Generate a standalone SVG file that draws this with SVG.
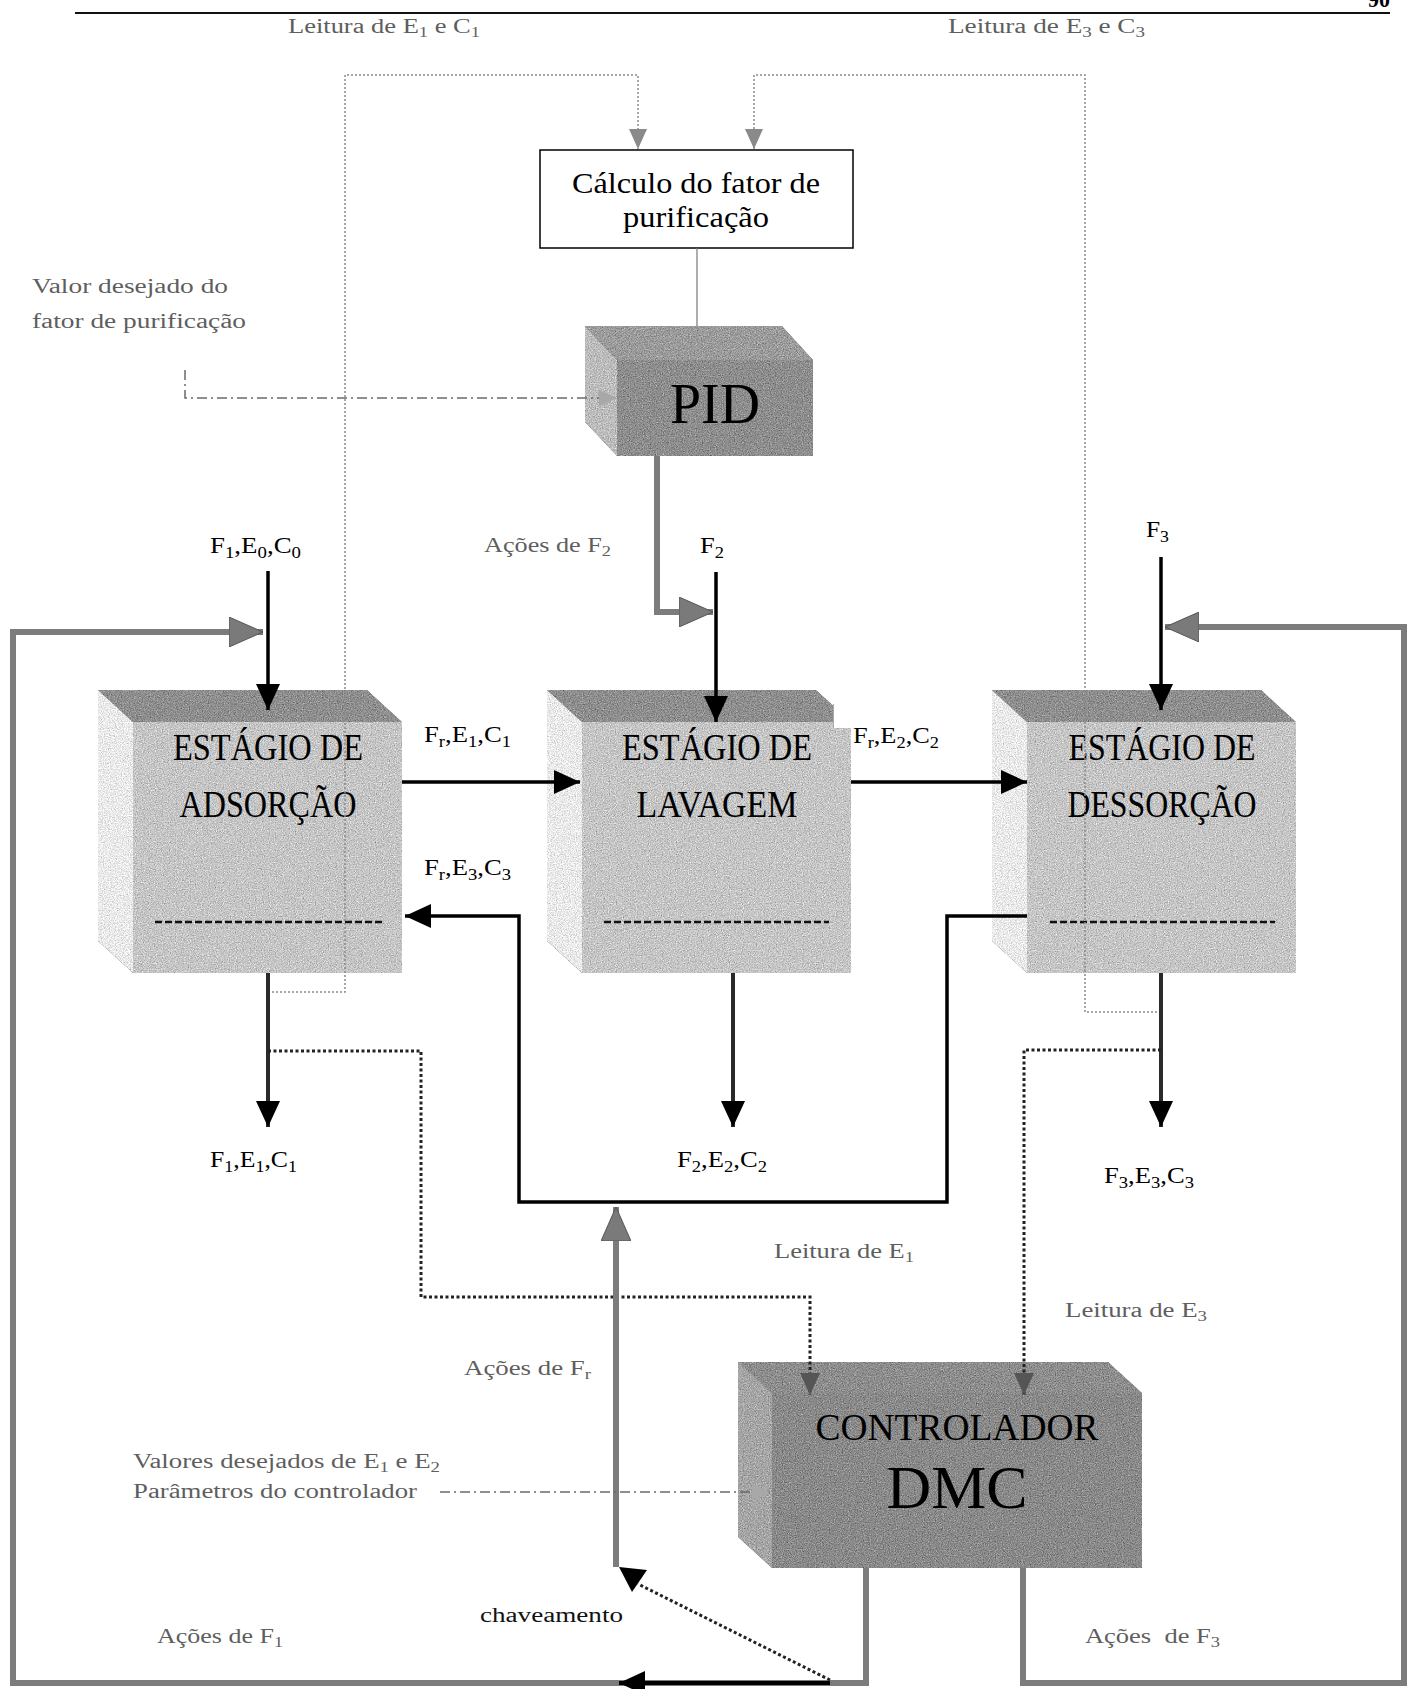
<svg xmlns="http://www.w3.org/2000/svg" width="1407" height="1689" viewBox="0 0 1407 1689">
<style>
  text { font-family: "Liberation Serif", "Times New Roman", serif; }
  .g { fill: #5e5e5e; font-size: 20px; }
  .k { fill: #000; font-size: 24px; }
  .stage { fill: #000; font-size: 37px; text-anchor: middle; }
  .s { font-size: 70%; }
  .blk { fill: none; stroke: #000; stroke-width: 3.5; }
  .out { fill: none; stroke: #2a2a2a; stroke-width: 4; }
  .thick { fill: none; stroke: #7c7c7c; stroke-width: 6; }
  .dotthin { fill: none; stroke: #8a8a8a; stroke-width: 1.5; stroke-dasharray: 2 2; }
  .dotbold { fill: none; stroke: #222; stroke-width: 3; stroke-dasharray: 3 2.5; }
  .dashdot { fill: none; stroke: #6a6a6a; stroke-width: 1.5; stroke-dasharray: 10 4 2 4; }
  .sep { stroke: #111; stroke-width: 2.5; stroke-dasharray: 7 3; }
  .top { fill: #8f8f8f; }
  .front { fill: #c6c6c6; }
  .side { fill: #ebebeb; }
</style>
<defs>
  <filter id="grain" x="0" y="0" width="1" height="1" color-interpolation-filters="sRGB">
    <feTurbulence type="fractalNoise" baseFrequency="0.85" numOctaves="2" seed="7" result="n"/>
    <feColorMatrix in="n" type="matrix" values="0.33 0.33 0.33 0 0  0.33 0.33 0.33 0 0  0.33 0.33 0.33 0 0  0 0 0 0 1" result="gn"/>
    <feComposite in="SourceGraphic" in2="gn" operator="arithmetic" k1="0" k2="1" k3="0.9" k4="-0.45" result="m"/>
    <feComposite in="m" in2="SourceAlpha" operator="in"/>
  </filter>
  <marker id="mk" viewBox="0 0 26 24" refX="26" refY="12" markerWidth="26" markerHeight="24" markerUnits="userSpaceOnUse" orient="auto">
    <path d="M0 0L26 12L0 24z" fill="#000"/>
  </marker>
  <marker id="mg" viewBox="0 0 34 30" refX="34" refY="15" markerWidth="34" markerHeight="30" markerUnits="userSpaceOnUse" orient="auto">
    <path d="M0 0L34 15L0 30z" fill="#7a7a7a" stroke="#555" stroke-width="1"/>
  </marker>
  <marker id="mt" viewBox="0 0 20 18" refX="20" refY="9" markerWidth="20" markerHeight="18" markerUnits="userSpaceOnUse" orient="auto">
    <path d="M0 0L20 9L0 18z" fill="#8a8a8a"/>
  </marker>
  <marker id="md" viewBox="0 0 22 20" refX="22" refY="10" markerWidth="22" markerHeight="20" markerUnits="userSpaceOnUse" orient="auto">
    <path d="M0 0L22 10L0 20z" fill="#555"/>
  </marker>
  <marker id="ml" viewBox="0 0 18 16" refX="18" refY="8" markerWidth="18" markerHeight="16" markerUnits="userSpaceOnUse" orient="auto">
    <path d="M0 0L18 8L0 16z" fill="#a8a8a8"/>
  </marker>
</defs>

<rect width="1407" height="1689" fill="#fff"/>

<!-- page header rule and page number -->
<g id="page-header">
  <line x1="75" y1="13" x2="1390" y2="13" stroke="#111" stroke-width="2"/>
  <text x="1390" y="7" font-size="22" font-weight="bold" text-anchor="end">90</text>
</g>

<!-- purification factor calculation -->
<g id="node-calculo">
  <rect x="540" y="150" width="313" height="98" fill="#fff" stroke="#000" stroke-width="1.5"/>
  <text x="696" y="193" font-size="29" text-anchor="middle" textLength="248" lengthAdjust="spacingAndGlyphs">Cálculo do fator de</text>
  <text x="696" y="227" font-size="29" text-anchor="middle" textLength="146" lengthAdjust="spacingAndGlyphs">purificação</text>
</g>

<!-- PID controller block -->
<g id="node-pid">
  <g filter="url(#grain)">
    <polygon points="585,326 617,360 617,456 585,422" fill="#bdbdbd"/>
    <polygon points="585,326 782,326 813,360 617,360" fill="#9c9c9c"/>
    <rect x="617" y="360" width="196" height="96" fill="#8e8e8e"/>
  </g>
  <text x="715" y="423" font-size="57" text-anchor="middle" textLength="90" lengthAdjust="spacingAndGlyphs">PID</text>
</g>

<!-- adsorption stage -->
<g id="node-adsorcao">
  <g filter="url(#grain)">
    <polygon class="side" points="98,690 133,722 133,973 98,941"/>
    <polygon class="top" points="98,690 367,690 402,722 133,722"/>
    <rect class="front" x="133" y="722" width="269" height="251"/>
  </g>
  <line class="sep" x1="155" y1="922" x2="382" y2="922"/>
  <text class="stage" x="268" y="760" textLength="190" lengthAdjust="spacingAndGlyphs">ESTÁGIO DE</text>
  <text class="stage" x="268" y="817" textLength="177" lengthAdjust="spacingAndGlyphs">ADSORÇÃO</text>
</g>

<!-- washing stage -->
<g id="node-lavagem">
  <g filter="url(#grain)">
    <polygon class="side" points="547,690 582,722 582,973 547,941"/>
    <polygon class="top" points="547,690 816,690 851,722 582,722"/>
    <rect class="front" x="582" y="722" width="269" height="251"/>
  </g>
  <line class="sep" x1="604" y1="922" x2="829" y2="922"/>
  <text class="stage" x="717" y="760" textLength="190" lengthAdjust="spacingAndGlyphs">ESTÁGIO DE</text>
  <text class="stage" x="717" y="817" textLength="161" lengthAdjust="spacingAndGlyphs">LAVAGEM</text>
</g>

<!-- desorption stage -->
<g id="node-dessorcao">
  <g filter="url(#grain)">
    <polygon class="side" points="992,690 1027,722 1027,973 992,941"/>
    <polygon class="top" points="992,690 1261,690 1296,722 1027,722"/>
    <rect class="front" x="1027" y="722" width="269" height="251"/>
  </g>
  <line class="sep" x1="1050" y1="922" x2="1275" y2="922"/>
  <text class="stage" x="1162" y="760" textLength="187" lengthAdjust="spacingAndGlyphs">ESTÁGIO DE</text>
  <text class="stage" x="1162" y="817" textLength="189" lengthAdjust="spacingAndGlyphs">DESSORÇÃO</text>
</g>

<!-- DMC controller block -->
<g id="node-dmc">
  <g filter="url(#grain)">
    <polygon points="738,1362 772,1393 772,1568 738,1537" fill="#a6a6a6"/>
    <polygon points="738,1362 1108,1362 1142,1393 772,1393" fill="#8e8e8e"/>
    <rect x="772" y="1393" width="370" height="175" fill="#8a8a8a"/>
  </g>
  <text x="957" y="1440" font-size="38" text-anchor="middle" textLength="283" lengthAdjust="spacingAndGlyphs">CONTROLADOR</text>
  <text x="957" y="1508" font-size="62" text-anchor="middle" textLength="141" lengthAdjust="spacingAndGlyphs">DMC</text>
</g>

<g id="connectors">
  <!-- composition readings to the purification factor calculation -->
  <path class="dotthin" d="M268 992 H345 V75 H638 V149" marker-end="url(#mt)"/>
  <path class="dotthin" d="M1161 1012 H1085 V75 H754 V149" marker-end="url(#mt)"/>
  <line x1="697" y1="248" x2="697" y2="326" stroke="#777" stroke-width="1.2"/>
  <!-- set point into PID -->
  <path class="dashdot" d="M185 370 V398 H617" marker-end="url(#ml)"/>
  <!-- PID action on F2 -->
  <path class="thick" d="M657 456 V612 H713" marker-end="url(#mg)"/>
  <!-- feeds -->
  <line class="blk" x1="268" y1="571" x2="268" y2="710" marker-end="url(#mk)"/>
  <line class="blk" x1="716" y1="572" x2="716" y2="722" marker-end="url(#mk)"/>
  <line class="blk" x1="1161" y1="557" x2="1161" y2="710" marker-end="url(#mk)"/>
  <!-- resin flow between stages -->
  <line class="blk" x1="402" y1="782" x2="580" y2="782" marker-end="url(#mk)"/>
  <line class="blk" x1="851" y1="782" x2="1027" y2="782" marker-end="url(#mk)"/>
  <path class="blk" d="M1027 916 H947 V1202 H519 V916 H405" marker-end="url(#mk)"/>
  <!-- stage outlets -->
  <line class="out" x1="268" y1="973" x2="268" y2="1127" marker-end="url(#mk)"/>
  <line class="out" x1="733" y1="973" x2="733" y2="1127" marker-end="url(#mk)"/>
  <line class="out" x1="1161" y1="973" x2="1161" y2="1127" marker-end="url(#mk)"/>
  <!-- E1 and E3 readings to DMC -->
  <path class="dotbold" d="M268 1051 H421 V1297 H810 V1395" marker-end="url(#md)"/>
  <path class="dotbold" d="M1161 1050 H1024 V1395" marker-end="url(#md)"/>
  <!-- DMC actions on F1, F3 and Fr -->
  <path class="thick" d="M866 1568 V1683 H13 V632 H263" marker-end="url(#mg)"/>
  <path class="thick" d="M1023 1568 V1683 H1404 V627 H1165" marker-end="url(#mg)"/>
  <path class="thick" d="M616 1567 V1207" marker-end="url(#mg)"/>
  <!-- switching -->
  <line x1="830" y1="1683" x2="619" y2="1683" stroke="#000" stroke-width="4" marker-end="url(#mk)"/>
  <line class="dotbold" x1="830" y1="1680" x2="638" y2="1584"/>
  <polygon points="619,1567 647,1570 632,1592" fill="#000"/>
  <!-- set points into DMC -->
  <line class="dashdot" x1="440" y1="1492" x2="770" y2="1492" marker-end="url(#ml)"/>
</g>

<g id="labels">
  <text class="g" x="288" y="33" textLength="192" lengthAdjust="spacingAndGlyphs">Leitura de E<tspan class="s" dy="4">1</tspan><tspan dy="-4"> e C</tspan><tspan class="s" dy="4">1</tspan></text>
  <text class="g" x="948" y="33" textLength="197" lengthAdjust="spacingAndGlyphs">Leitura de E<tspan class="s" dy="4">3</tspan><tspan dy="-4"> e C</tspan><tspan class="s" dy="4">3</tspan></text>
  <text class="g" x="32" y="293" textLength="196" lengthAdjust="spacingAndGlyphs">Valor desejado do</text>
  <text class="g" x="32" y="328" textLength="214" lengthAdjust="spacingAndGlyphs">fator de purificação</text>
  <text class="g" x="484" y="552" textLength="127" lengthAdjust="spacingAndGlyphs">Ações de F<tspan class="s" dy="4">2</tspan></text>
  <text class="k" x="210" y="553" textLength="91" lengthAdjust="spacingAndGlyphs">F<tspan class="s" dy="5">1</tspan><tspan dy="-5">,E</tspan><tspan class="s" dy="5">0</tspan><tspan dy="-5">,C</tspan><tspan class="s" dy="5">0</tspan></text>
  <text class="k" x="700" y="553" textLength="24" lengthAdjust="spacingAndGlyphs">F<tspan class="s" dy="5">2</tspan></text>
  <text class="k" x="1146" y="537" textLength="23" lengthAdjust="spacingAndGlyphs">F<tspan class="s" dy="5">3</tspan></text>
  <text class="k" x="424" y="742" textLength="87" lengthAdjust="spacingAndGlyphs">F<tspan class="s" dy="5">r</tspan><tspan dy="-5">,E</tspan><tspan class="s" dy="5">1</tspan><tspan dy="-5">,C</tspan><tspan class="s" dy="5">1</tspan></text>
  <text class="k" x="424" y="875" textLength="87" lengthAdjust="spacingAndGlyphs">F<tspan class="s" dy="5">r</tspan><tspan dy="-5">,E</tspan><tspan class="s" dy="5">3</tspan><tspan dy="-5">,C</tspan><tspan class="s" dy="5">3</tspan></text>
  <rect x="833" y="704" width="20" height="24" fill="#fff"/>
  <line x1="833.5" y1="704" x2="833.5" y2="728" stroke="#aaa" stroke-width="1"/>
  <text class="k" x="853" y="743" textLength="86" lengthAdjust="spacingAndGlyphs">F<tspan class="s" dy="5">r</tspan><tspan dy="-5">,E</tspan><tspan class="s" dy="5">2</tspan><tspan dy="-5">,C</tspan><tspan class="s" dy="5">2</tspan></text>
  <text class="k" x="210" y="1167" textLength="87" lengthAdjust="spacingAndGlyphs">F<tspan class="s" dy="5">1</tspan><tspan dy="-5">,E</tspan><tspan class="s" dy="5">1</tspan><tspan dy="-5">,C</tspan><tspan class="s" dy="5">1</tspan></text>
  <text class="k" x="677" y="1167" textLength="90" lengthAdjust="spacingAndGlyphs">F<tspan class="s" dy="5">2</tspan><tspan dy="-5">,E</tspan><tspan class="s" dy="5">2</tspan><tspan dy="-5">,C</tspan><tspan class="s" dy="5">2</tspan></text>
  <text class="k" x="1104" y="1183" textLength="90" lengthAdjust="spacingAndGlyphs">F<tspan class="s" dy="5">3</tspan><tspan dy="-5">,E</tspan><tspan class="s" dy="5">3</tspan><tspan dy="-5">,C</tspan><tspan class="s" dy="5">3</tspan></text>
  <text class="g" x="774" y="1258" textLength="140" lengthAdjust="spacingAndGlyphs">Leitura de E<tspan class="s" dy="4">1</tspan></text>
  <text class="g" x="1065" y="1317" textLength="142" lengthAdjust="spacingAndGlyphs">Leitura de E<tspan class="s" dy="4">3</tspan></text>
  <text class="g" x="464" y="1375" textLength="127" lengthAdjust="spacingAndGlyphs">Ações de F<tspan class="s" dy="4">r</tspan></text>
  <text class="g" x="133" y="1468" textLength="307" lengthAdjust="spacingAndGlyphs">Valores desejados de E<tspan class="s" dy="4">1</tspan><tspan dy="-4"> e E</tspan><tspan class="s" dy="4">2</tspan></text>
  <text class="g" x="133" y="1498" textLength="284" lengthAdjust="spacingAndGlyphs">Parâmetros do controlador</text>
  <text x="480" y="1622" font-size="20" fill="#111" textLength="143" lengthAdjust="spacingAndGlyphs">chaveamento</text>
  <text class="g" x="157" y="1643" textLength="126" lengthAdjust="spacingAndGlyphs">Ações de F<tspan class="s" dy="4">1</tspan></text>
  <text class="g" x="1085" y="1643" textLength="135" lengthAdjust="spacingAndGlyphs" xml:space="preserve">Ações  de F<tspan class="s" dy="4">3</tspan></text>
</g>
</svg>
